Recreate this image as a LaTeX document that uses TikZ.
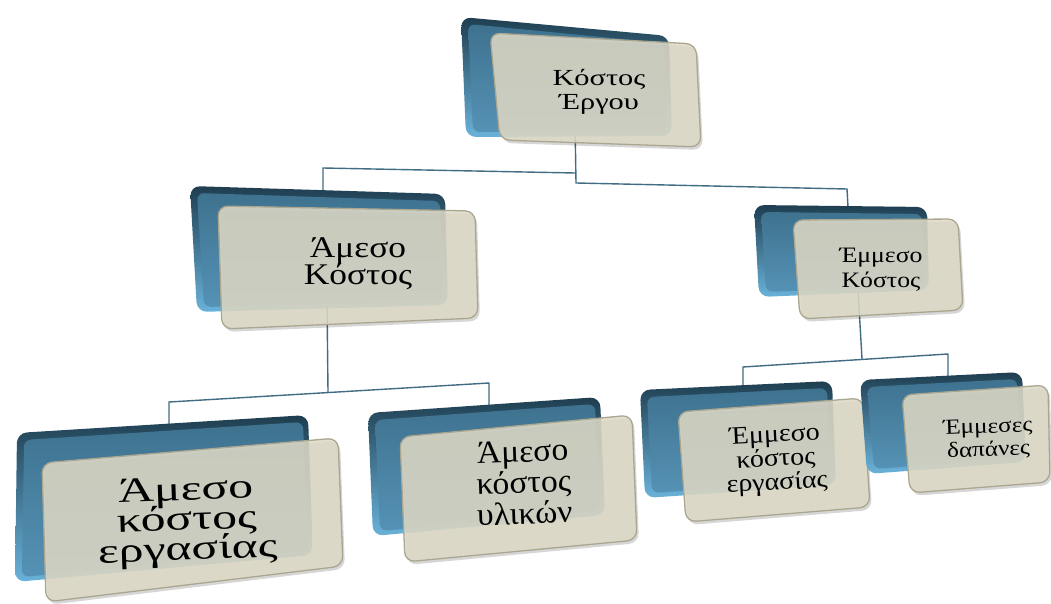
\documentclass[tikz,border=0pt]{standalone}
\usepackage{fontspec}
\setmainfont{Liberation Serif}
\usetikzlibrary{calc}

\definecolor{rimdark}{HTML}{1F3E50}
\definecolor{rimlight}{HTML}{6AB2DA}
\definecolor{facetop}{HTML}{3E728F}
\definecolor{facebot}{HTML}{5592B5}
\definecolor{paper}{HTML}{DDD9C6}
\definecolor{paperedge}{HTML}{ABA68F}
\definecolor{wire}{HTML}{426C83}

% centred lines with a fixed baseline pitch; the box baseline is the first line
\newcommand\stacklines[3]{\vtop{\fontsize{#1}{#2}\selectfont\lineskiplimit=-100pt\relax
  \halign{\hfil##\hfil\cr#3\crcr}}}

% blue slab behind a card: corners TL, TR, BR, BL
\newcommand\backbox[4]{%
  \shade[top color=rimdark,bottom color=rimlight,rounded corners=10pt]
    ($(#1)!.5!(#2)$) -- (#2) -- (#3) -- (#4) -- (#1) -- cycle;
  \shade[top color=facetop,bottom color=facebot,rounded corners=7pt]
    ($(#1)!.5!(#2)+(0,7)$) -- ($(#2)+(-5,7)$) -- ($(#3)+(-5,-4)$) -- ($(#4)+(7,-5)$) -- ($(#1)+(7,7)$) -- cycle;
}
% translucent beige card: corners TL, TR, BR, BL
\newcommand\frontbox[4]{%
  \fill[black,opacity=.16,rounded corners=10pt,xshift=2pt,yshift=-3pt]
    ($(#1)!.5!(#2)$) -- (#2) -- (#3) -- (#4) -- (#1) -- cycle;
  \filldraw[fill=paper,fill opacity=.88,draw=paperedge,line width=1.3pt,rounded corners=10pt]
    ($(#1)!.5!(#2)$) -- (#2) -- (#3) -- (#4) -- (#1) -- cycle;
}

\tikzset{
  wire/.style={draw=wire,line width=1.4pt},
  lbl/.style={anchor=base,inner sep=0pt,text=black},
}

\begin{document}
\begin{tikzpicture}[x=1pt,y=-1pt]
\useasboundingbox (0,0) rectangle (1051,604);

% ---- connector points
\coordinate (c1)   at (575,120);
\coordinate (c1a)  at (575,173);
\coordinate (c1b)  at (576,183);
\coordinate (c2)   at (323,168);
\coordinate (c2in) at (323,190);
\coordinate (c3)   at (847,189);
\coordinate (c3in) at (848,207);

\coordinate (d0)   at (327,300);
\coordinate (d1)   at (328,392);
\coordinate (d2)   at (169,402);
\coordinate (d2in) at (169,425);
\coordinate (d3)   at (489,383);
\coordinate (d3in) at (489,406);

\coordinate (e0)   at (858,290);
\coordinate (e1)   at (862,359);
\coordinate (e2)   at (743,367);
\coordinate (e2in) at (743,386);
\coordinate (e3)   at (948,354);
\coordinate (e3in) at (948,377);

% ---- connectors
\draw[wire] (c1) -- (c1b) -- (c3) -- (c3in);
\draw[wire] (c1a) -- (c2) -- (c2in);
\draw[wire] (d0) -- (d1);
\draw[wire] (d2in) -- (d2) -- (d3) -- (d3in);
\draw[wire] (e0) -- (e1);
\draw[wire] (e2in) -- (e2) -- (e3) -- (e3in);

% ---- Κόστος Έργου
\backbox{461,17}{669,36}{672,136}{466,137}
\frontbox{490,33}{696,44}{701,147}{500,140}
\node[lbl] (n1) at (599,86) {\scalebox{1.32}[1]{\stacklines{23}{24}{Κόστος\cr Έργου}}};

% ---- Άμεσο Κόστος
\backbox{190,186}{445,194}{448,305}{197,312}
\frontbox{218,206}{475,211}{478,318}{222,329}
\node[lbl] (n2) at (358,257) {\scalebox{1.18}[1]{\stacklines{30}{27}{Άμεσο\cr Κόστος}}};

% ---- Έμμεσο Κόστος
\backbox{754,205}{927,207}{929,290}{759,297}
\frontbox{793,220}{958,219}{963,310}{800,319}
\node[lbl] (n3) at (881,262) {\scalebox{1.17}[1]{\stacklines{22}{25}{Έμμεσο\cr Κόστος}}};

% ---- Άμεσο κόστος εργασίας
\backbox{17,433}{308,415}{313,555}{15,582}
\frontbox{42,463}{338,438}{343,566}{46,602}
\node[lbl,rotate=2] (n4) at (186,500) {\scalebox{1.42}[1]{\stacklines{35}{30}{Άμεσο\cr κόστος\cr εργασίας}}};

% ---- Άμεσο κόστος υλικών
\backbox{368,413}{600,397}{605,515}{373,536}
\frontbox{400,437}{632,415}{637,540}{405,562}
\node[lbl,rotate=2] (n5) at (523,462) {\scalebox{1.05}[1]{\stacklines{32}{31}{Άμεσο\cr κόστος\cr υλικών}}};

% ---- Έμμεσο κόστος εργασίας
\backbox{640,390}{832,381}{836,485}{645,498}
\frontbox{678,412}{863,398}{870,507}{686,522}
\node[lbl,rotate=3] (n6) at (775,442) {\scalebox{1.12}[1]{\stacklines{25}{24}{Έμμεσο\cr κόστος\cr εργασίας}}};

% ---- Έμμεσες δαπάνες
\backbox{860,380}{1022,372}{1026,462}{867,474}
\frontbox{902,395}{1048,385}{1050,482}{910,493}
\node[lbl,rotate=2] (n7) at (988,433) {\scalebox{1.17}[1]{\stacklines{21.5}{23}{Έμμεσες\cr δαπάνες}}};

\end{tikzpicture}
\end{document}
